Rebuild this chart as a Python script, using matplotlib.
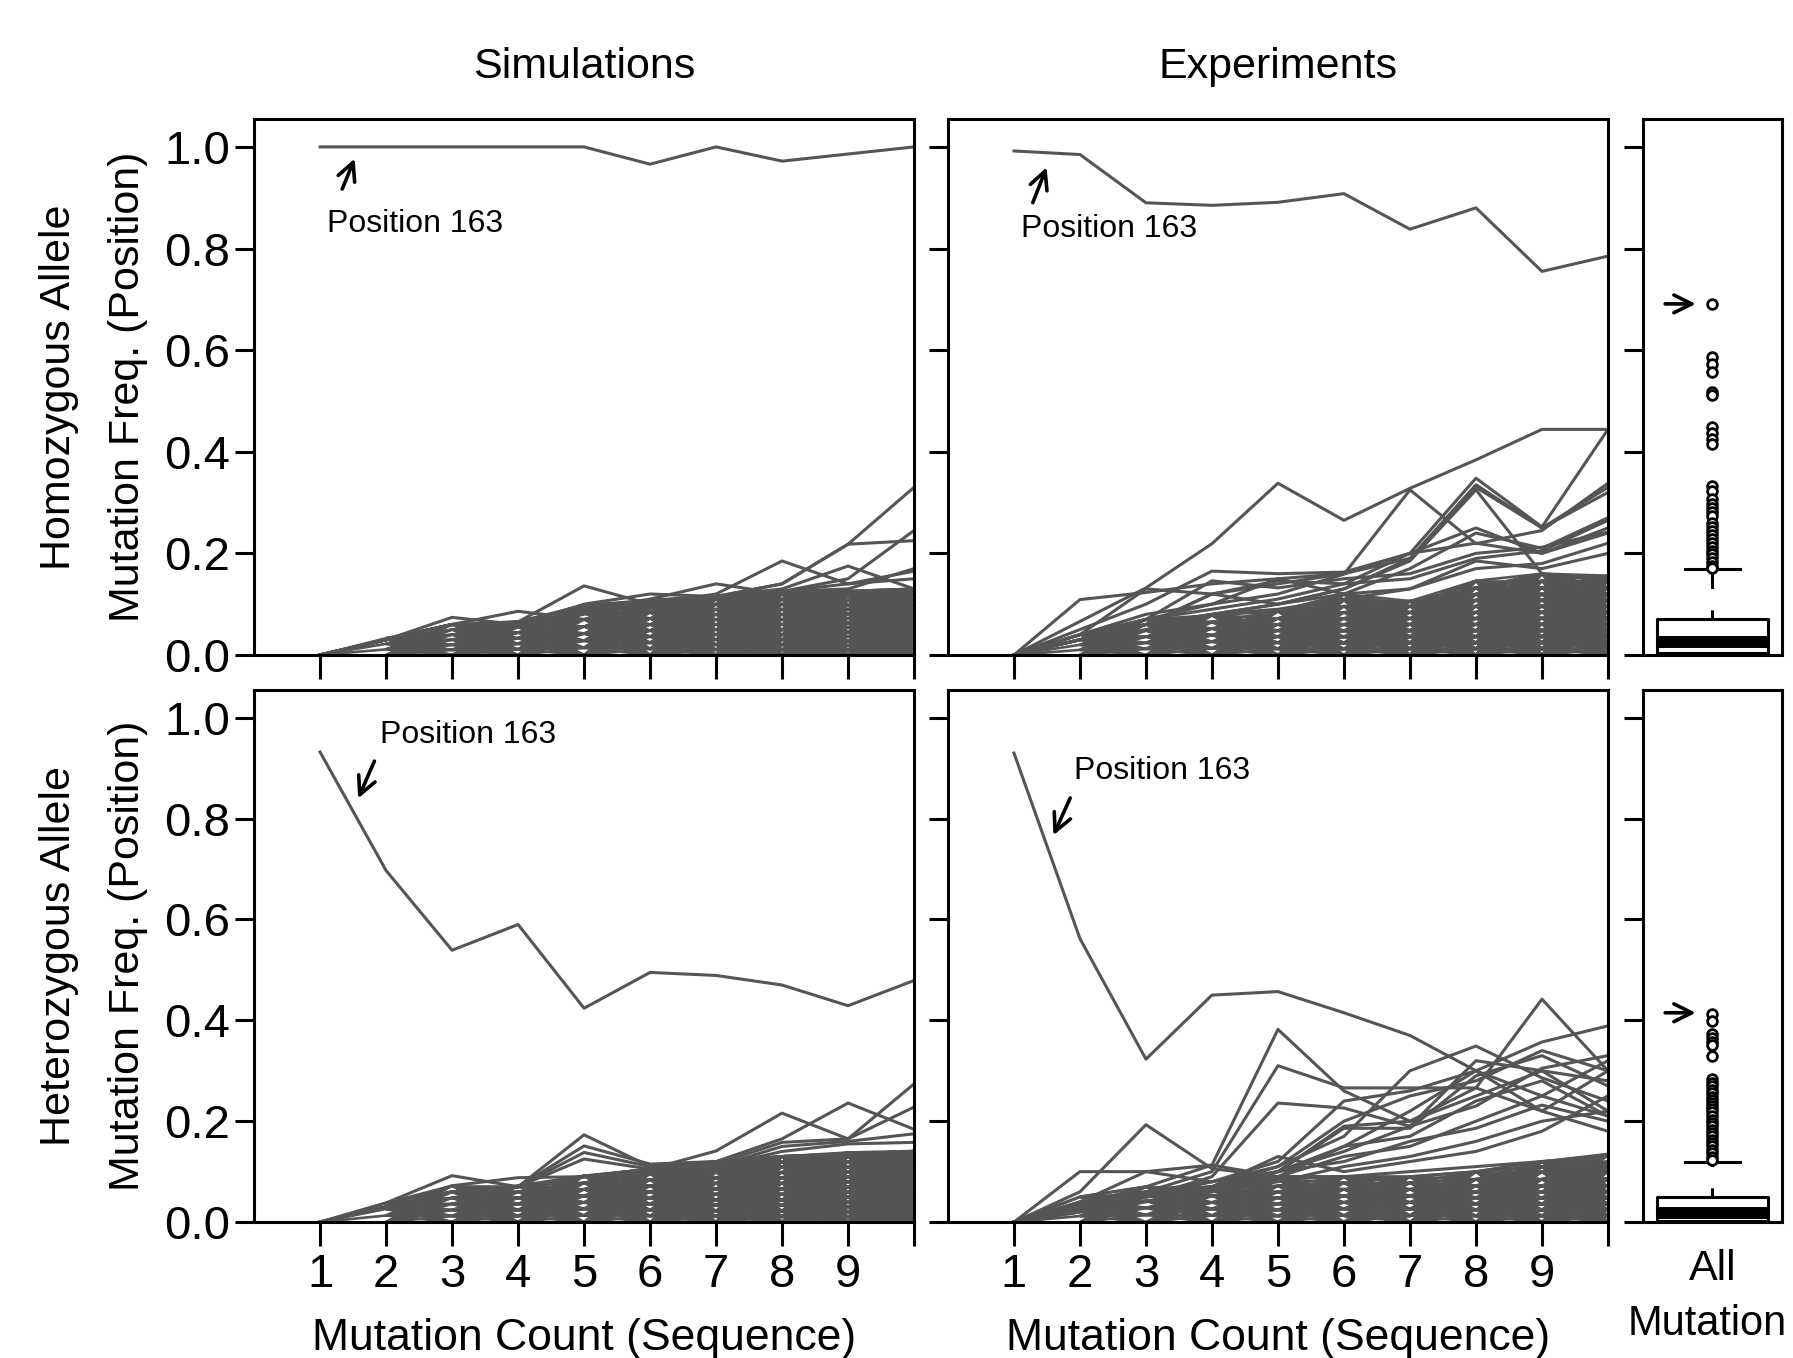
import matplotlib.pyplot as plt
from matplotlib.collections import LineCollection

plt.rcParams['font.family'] = ['Liberation Sans', 'DejaVu Sans']

GRAY = '#555555'
LW = 2.2

# x axis: mutation count of the sequence
counts = [1, 2, 3, 4, 5, 6, 7, 8, 9, 10]
count_labels = ['1', '2', '3', '4', '5', '6', '7', '8', '9', '']
freq_ticks = [0.0, 0.2, 0.4, 0.6, 0.8, 1.0]
freq_labels = ['0.0', '0.2', '0.4', '0.6', '0.8', '1.0']

# position 163 (the annotated line)
hom_sim_163 = [1.0, 1.0, 1.0, 1.0, 1.0, 0.966, 1.0, 0.972, 0.986, 1.0]
hom_exp_163 = [0.992, 0.985, 0.890, 0.885, 0.891, 0.908, 0.838, 0.880, 0.755, 0.785]
het_sim_163 = [0.932, 0.697, 0.539, 0.590, 0.424, 0.495, 0.489, 0.470, 0.429, 0.479]
het_exp_163 = [0.930, 0.562, 0.323, 0.450, 0.457, 0.415, 0.370, 0.300, 0.250, 0.210]

# discrete frequency levels of the dense bundle at each mutation count
hom_sim_levels = [
    [0.0],
    [0.0, 0.011, 0.022, 0.033],
    [0.0, 0.01, 0.02, 0.03, 0.04, 0.05, 0.06],
    [0.0, 0.011, 0.022, 0.033, 0.044, 0.055, 0.066],
    [0.0, 0.014, 0.028, 0.042, 0.056, 0.07, 0.084, 0.098],
    [0.0, 0.012, 0.024, 0.036, 0.048, 0.06, 0.072, 0.084, 0.096, 0.108],
    [0.0, 0.01, 0.02, 0.03, 0.04, 0.05, 0.06, 0.07, 0.08, 0.09, 0.1, 0.11, 0.117],
    [0.0, 0.01, 0.02, 0.03, 0.04, 0.05, 0.06, 0.07, 0.08, 0.09, 0.1, 0.11, 0.12],
    [0.0, 0.009, 0.018, 0.027, 0.036, 0.045, 0.054, 0.063, 0.072, 0.081, 0.09, 0.099, 0.108, 0.117, 0.126],
    [0.0, 0.01, 0.02, 0.03, 0.04, 0.05, 0.06, 0.07, 0.08, 0.09, 0.1, 0.11, 0.12, 0.13],
]
hom_exp_levels = [
    [0.0],
    [0.0, 0.01, 0.02, 0.03, 0.04],
    [0.0, 0.012, 0.024, 0.036, 0.048, 0.06, 0.07],
    [0.0, 0.013, 0.026, 0.039, 0.052, 0.065, 0.078],
    [0.0, 0.012, 0.024, 0.036, 0.048, 0.06, 0.072, 0.086],
    [0.0, 0.012, 0.024, 0.036, 0.048, 0.06, 0.072, 0.084, 0.096, 0.108, 0.12],
    [0.0, 0.012, 0.024, 0.036, 0.048, 0.06, 0.072, 0.084, 0.096, 0.106],
    [0.0, 0.012, 0.024, 0.036, 0.048, 0.06, 0.072, 0.084, 0.096, 0.108, 0.12, 0.133, 0.146],
    [0.0, 0.012, 0.024, 0.036, 0.048, 0.06, 0.072, 0.084, 0.096, 0.108, 0.12, 0.133, 0.146, 0.16],
    [0.0, 0.012, 0.024, 0.036, 0.048, 0.06, 0.072, 0.084, 0.096, 0.108, 0.12, 0.133, 0.146, 0.156],
]
het_sim_levels = [
    [0.0],
    [0.0, 0.013, 0.026, 0.038],
    [0.0, 0.012, 0.024, 0.036, 0.048, 0.06, 0.072],
    [0.0, 0.012, 0.024, 0.036, 0.048, 0.06, 0.072],
    [0.0, 0.013, 0.026, 0.039, 0.052, 0.065, 0.078, 0.092],
    [0.0, 0.012, 0.024, 0.036, 0.048, 0.06, 0.072, 0.084, 0.096, 0.105],
    [0.0, 0.011, 0.022, 0.033, 0.044, 0.055, 0.066, 0.077, 0.088, 0.099, 0.105],
    [0.0, 0.011, 0.022, 0.033, 0.044, 0.055, 0.066, 0.077, 0.088, 0.099, 0.11, 0.12, 0.13],
    [0.0, 0.01, 0.02, 0.03, 0.04, 0.05, 0.06, 0.07, 0.08, 0.09, 0.1, 0.11, 0.12, 0.13, 0.138],
    [0.0, 0.01, 0.02, 0.03, 0.04, 0.05, 0.06, 0.07, 0.08, 0.09, 0.1, 0.11, 0.12, 0.13, 0.141],
]
het_exp_levels = [
    [0.0],
    [0.0, 0.012, 0.024, 0.036, 0.05],
    [0.0, 0.014, 0.028, 0.042, 0.056, 0.07],
    [0.0, 0.013, 0.026, 0.039, 0.052, 0.065],
    [0.0, 0.012, 0.024, 0.036, 0.048, 0.06, 0.072, 0.085],
    [0.0, 0.013, 0.026, 0.039, 0.052, 0.065, 0.078, 0.09],
    [0.0, 0.013, 0.026, 0.039, 0.052, 0.065, 0.078, 0.09],
    [0.0, 0.012, 0.024, 0.036, 0.048, 0.06, 0.072, 0.085, 0.1],
    [0.0, 0.012, 0.024, 0.036, 0.048, 0.06, 0.072, 0.085, 0.1, 0.11, 0.12],
    [0.0, 0.012, 0.024, 0.036, 0.048, 0.06, 0.072, 0.085, 0.1, 0.11, 0.12, 0.135],
]

# positions that stand out above the bundle
hom_sim_lines = [
    [0, 0.03, 0.074, 0.06, 0.08, 0.1, 0.11, 0.12, 0.12, 0.13],
    [0, 0.03, 0.06, 0.086, 0.07, 0.09, 0.1, 0.11, 0.12, 0.13],
    [0, 0.03, 0.06, 0.065, 0.136, 0.1, 0.11, 0.12, 0.125, 0.13],
    [0, 0.03, 0.06, 0.06, 0.1, 0.12, 0.115, 0.12, 0.12, 0.13],
    [0, 0.03, 0.06, 0.06, 0.09, 0.11, 0.14, 0.12, 0.125, 0.13],
    [0, 0.03, 0.06, 0.06, 0.09, 0.1, 0.12, 0.185, 0.14, 0.15],
    [0, 0.03, 0.06, 0.06, 0.09, 0.1, 0.115, 0.14, 0.218, 0.33],
    [0, 0.03, 0.06, 0.06, 0.09, 0.1, 0.115, 0.14, 0.218, 0.225],
    [0, 0.03, 0.06, 0.06, 0.09, 0.1, 0.115, 0.13, 0.175, 0.13],
    [0, 0.03, 0.06, 0.06, 0.09, 0.1, 0.115, 0.125, 0.15, 0.245],
    [0, 0.03, 0.06, 0.06, 0.09, 0.1, 0.115, 0.125, 0.14, 0.165],
    [0, 0.03, 0.06, 0.06, 0.09, 0.1, 0.115, 0.125, 0.13, 0.17],
]
hom_exp_lines = [
    [0, 0.066, 0.132, 0.219, 0.338, 0.265, 0.328, 0.384, 0.444, 0.444],
    [0, 0.109, 0.123, 0.14, 0.15, 0.16, 0.2, 0.25, 0.2, 0.24],
    [0, 0.04, 0.07, 0.1, 0.12, 0.159, 0.325, 0.219, 0.245, 0.338],
    [0, 0.04, 0.07, 0.09, 0.11, 0.14, 0.2, 0.348, 0.252, 0.444],
    [0, 0.03, 0.06, 0.08, 0.1, 0.13, 0.185, 0.325, 0.16, 0.15],
    [0, 0.03, 0.06, 0.08, 0.1, 0.13, 0.19, 0.335, 0.25, 0.33],
    [0, 0.05, 0.1, 0.165, 0.16, 0.163, 0.2, 0.22, 0.2, 0.25],
    [0, 0.04, 0.13, 0.12, 0.146, 0.14, 0.15, 0.19, 0.205, 0.265],
    [0, 0.03, 0.07, 0.146, 0.132, 0.15, 0.16, 0.2, 0.212, 0.242],
    [0, 0.03, 0.06, 0.12, 0.1, 0.12, 0.13, 0.185, 0.17, 0.2],
    [0, 0.03, 0.05, 0.08, 0.09, 0.11, 0.13, 0.17, 0.18, 0.22],
    [0, 0.03, 0.06, 0.12, 0.14, 0.16, 0.19, 0.33, 0.25, 0.32],
    [0, 0.04, 0.08, 0.1, 0.15, 0.12, 0.17, 0.24, 0.21, 0.27],
]
het_sim_lines = [
    [0, 0.038, 0.092, 0.07, 0.09, 0.1, 0.1, 0.12, 0.13, 0.14],
    [0, 0.03, 0.072, 0.088, 0.09, 0.1, 0.1, 0.12, 0.13, 0.14],
    [0, 0.03, 0.06, 0.07, 0.173, 0.11, 0.11, 0.13, 0.135, 0.14],
    [0, 0.03, 0.06, 0.07, 0.151, 0.115, 0.12, 0.13, 0.135, 0.14],
    [0, 0.03, 0.06, 0.07, 0.138, 0.11, 0.12, 0.13, 0.135, 0.14],
    [0, 0.03, 0.06, 0.07, 0.125, 0.105, 0.115, 0.13, 0.135, 0.14],
    [0, 0.03, 0.06, 0.07, 0.09, 0.105, 0.141, 0.216, 0.165, 0.274],
    [0, 0.03, 0.06, 0.07, 0.09, 0.105, 0.12, 0.165, 0.236, 0.184],
    [0, 0.03, 0.06, 0.07, 0.09, 0.105, 0.115, 0.158, 0.165, 0.228],
    [0, 0.03, 0.06, 0.07, 0.09, 0.105, 0.11, 0.15, 0.16, 0.175],
    [0, 0.03, 0.06, 0.07, 0.09, 0.1, 0.11, 0.14, 0.155, 0.158],
]
het_exp_lines = [
    [0, 0.06, 0.193, 0.106, 0.09, 0.09, 0.09, 0.1, 0.12, 0.13],
    [0, 0.10, 0.10, 0.113, 0.09, 0.09, 0.1, 0.11, 0.12, 0.13],
    [0, 0.05, 0.07, 0.113, 0.382, 0.26, 0.2, 0.25, 0.3, 0.28],
    [0, 0.04, 0.06, 0.1, 0.31, 0.266, 0.266, 0.266, 0.22, 0.18],
    [0, 0.03, 0.05, 0.09, 0.236, 0.226, 0.19, 0.23, 0.305, 0.33],
    [0, 0.04, 0.1, 0.08, 0.11, 0.17, 0.30, 0.349, 0.286, 0.24],
    [0, 0.03, 0.06, 0.07, 0.1, 0.19, 0.2, 0.266, 0.442, 0.30],
    [0, 0.03, 0.06, 0.07, 0.09, 0.15, 0.22, 0.3, 0.357, 0.389],
    [0, 0.03, 0.05, 0.07, 0.1, 0.186, 0.186, 0.29, 0.33, 0.27],
    [0, 0.03, 0.05, 0.06, 0.1, 0.12, 0.16, 0.186, 0.232, 0.2],
    [0, 0.03, 0.05, 0.06, 0.09, 0.13, 0.15, 0.2, 0.25, 0.32],
    [0, 0.02, 0.04, 0.06, 0.08, 0.11, 0.13, 0.16, 0.2, 0.22],
    [0, 0.03, 0.05, 0.07, 0.13, 0.1, 0.12, 0.14, 0.18, 0.25],
    [0, 0.03, 0.05, 0.08, 0.12, 0.24, 0.26, 0.3, 0.22, 0.3],
    [0, 0.03, 0.06, 0.07, 0.1, 0.14, 0.19, 0.32, 0.3, 0.22],
    [0, 0.02, 0.05, 0.07, 0.11, 0.2, 0.25, 0.28, 0.34, 0.3],
    [0, 0.03, 0.06, 0.08, 0.1, 0.15, 0.17, 0.24, 0.28, 0.21],
]

# all mutation counts pooled: box plot summaries
hom_box = dict(q1=0.004, med=0.025, q3=0.070, whislo=0.0, whishi=0.170)
hom_outliers = [0.691, 0.587, 0.573, 0.556, 0.518, 0.512, 0.448, 0.437, 0.426, 0.415,
                0.333, 0.322, 0.307, 0.298, 0.29, 0.282, 0.274, 0.26, 0.252, 0.244,
                0.236, 0.228, 0.22, 0.212, 0.205, 0.198, 0.19, 0.183, 0.176, 0.172]
het_box = dict(q1=0.003, med=0.018, q3=0.050, whislo=0.0, whishi=0.120)
het_outliers = [0.412, 0.398, 0.372, 0.365, 0.358, 0.352, 0.329, 0.284, 0.276, 0.27,
                0.262, 0.255, 0.248, 0.242, 0.236, 0.23, 0.224, 0.218, 0.21, 0.202,
                0.196, 0.19, 0.183, 0.176, 0.17, 0.163, 0.156, 0.15, 0.143, 0.136,
                0.13, 0.124]

fig = plt.figure(figsize=(17.93, 13.58), dpi=100)

top_y, top_h = 0.5177, 0.3947
bot_y, bot_h = 0.1001, 0.3918
col_x = [0.1417, 0.5287]
col_w = 0.3681
box_x, box_w = 0.9163, 0.0775


def style_axes(ax, ylabels=False):
    ax.set_ylim(0, 1.055)
    for s in ax.spines.values():
        s.set_linewidth(LW)
    ax.set_yticks(freq_ticks)
    ax.set_yticklabels(freq_labels if ylabels else [])
    ax.tick_params(axis='y', length=14, width=LW, pad=3, labelsize=34)
    ax.tick_params(axis='x', length=17, width=LW, pad=5, labelsize=34)


def line_panel(rect, pos163, levels, lines, xlabels=False, ylabels=False):
    ax = fig.add_axes(rect)
    segs = []
    for i in range(len(counts) - 1):
        for a in levels[i]:
            for b in levels[i + 1]:
                segs.append([(counts[i], a), (counts[i + 1], b)])
    ax.add_collection(LineCollection(segs, colors=GRAY, linewidths=1.9, capstyle='butt'))
    for ys in lines:
        ax.plot(counts, ys, color=GRAY, lw=LW)
    ax.plot(counts, pos163, color=GRAY, lw=LW)
    ax.set_xlim(0, 10)
    ax.set_xticks(counts)
    ax.set_xticklabels(count_labels if xlabels else [])
    style_axes(ax, ylabels)
    return ax


def box_panel(rect, stats, outliers, arrow_y):
    ax = fig.add_axes(rect)
    st = dict(stats)
    st['fliers'] = outliers
    ax.bxp([st], positions=[1], widths=0.8, capwidths=0.4,
           boxprops=dict(color='black', linewidth=LW),
           medianprops=dict(color='black', linewidth=8.6, solid_capstyle='butt'),
           whiskerprops=dict(color='black', linewidth=LW, linestyle=(2, (5, 7))),
           capprops=dict(color='black', linewidth=LW),
           flierprops=dict(marker='o', markerfacecolor='white', markeredgecolor='black',
                           markersize=7, markeredgewidth=2.0))
    ax.annotate('', xy=(0.9, arrow_y), xytext=(0.64, arrow_y),
                arrowprops=dict(arrowstyle='->', lw=2.6, color='black', mutation_scale=32))
    ax.set_xlim(0.5, 1.5)
    ax.set_xticks([])
    style_axes(ax)
    return ax


def label_163(ax, text_xy, tail, head):
    ax.text(text_xy[0], text_xy[1], 'Position 163', fontsize=23, ha='left', va='center')
    ax.annotate('', xy=head, xytext=tail,
                arrowprops=dict(arrowstyle='->', lw=2.6, color='black', mutation_scale=32))


ax_hs = line_panel([col_x[0], top_y, col_w, top_h], hom_sim_163, hom_sim_levels, hom_sim_lines, ylabels=True)
ax_he = line_panel([col_x[1], top_y, col_w, top_h], hom_exp_163, hom_exp_levels, hom_exp_lines)
ax_ts = line_panel([col_x[0], bot_y, col_w, bot_h], het_sim_163, het_sim_levels, het_sim_lines,
                   xlabels=True, ylabels=True)
ax_te = line_panel([col_x[1], bot_y, col_w, bot_h], het_exp_163, het_exp_levels, het_exp_lines, xlabels=True)
box_panel([box_x, top_y, box_w, top_h], hom_box, hom_outliers, 0.691)
box_panel([box_x, bot_y, box_w, bot_h], het_box, het_outliers, 0.415)

label_163(ax_hs, (1.11, 0.849), (1.32, 0.912), (1.54, 0.982))
label_163(ax_he, (1.11, 0.838), (1.27, 0.885), (1.51, 0.965))
label_163(ax_ts, (1.91, 0.966), (1.84, 0.919), (1.56, 0.835))
label_163(ax_te, (1.91, 0.894), (1.87, 0.846), (1.58, 0.762))

fig.text(0.3257, 0.951, 'Simulations', fontsize=31, ha='center', va='center')
fig.text(0.7128, 0.951, 'Experiments', fontsize=31, ha='center', va='center')

fig.text(0.0329, 0.715, 'Homozygous Allele', fontsize=31, rotation=90, ha='center', va='center')
fig.text(0.0714, 0.715, 'Mutation Freq. (Position)', fontsize=31, rotation=90, ha='center', va='center')
fig.text(0.0329, 0.296, 'Heterozygous Allele', fontsize=31, rotation=90, ha='center', va='center')
fig.text(0.0714, 0.296, 'Mutation Freq. (Position)', fontsize=31, rotation=90, ha='center', va='center')

fig.text(0.3257, 0.0147, 'Mutation Count (Sequence)', fontsize=32, ha='center', va='center')
fig.text(0.7128, 0.0147, 'Mutation Count (Sequence)', fontsize=32, ha='center', va='center')
fig.text(0.955, 0.0655, 'All', fontsize=31, ha='center', va='center')
fig.text(0.952, 0.025, 'Mutation', fontsize=30, ha='center', va='center')
fig.text(0.952, -0.016, 'Count', fontsize=30, ha='center', va='center')

fig.savefig('out.png', dpi=100)
